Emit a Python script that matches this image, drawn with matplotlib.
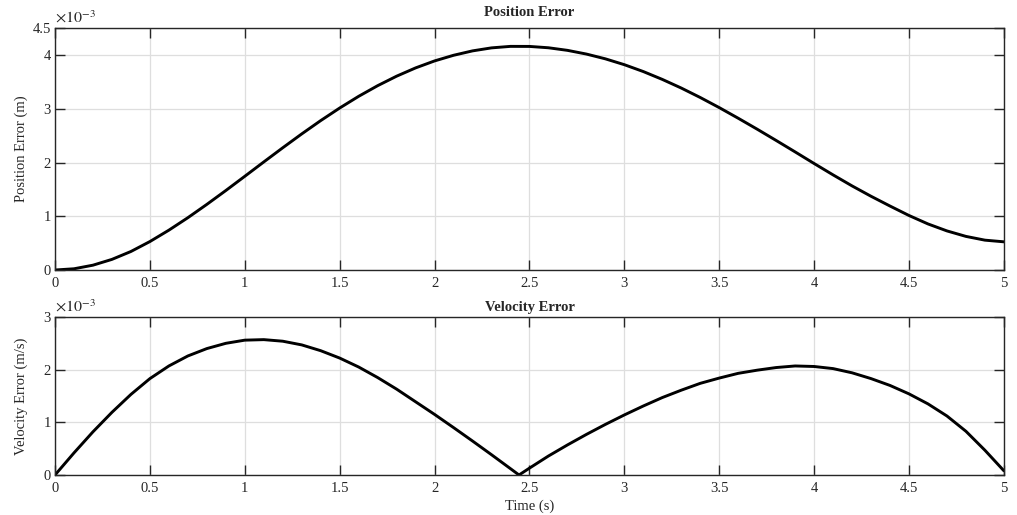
import numpy as np
import matplotlib
matplotlib.use("Agg")
import matplotlib.pyplot as plt
from matplotlib.ticker import FuncFormatter

# Sample times (s)
time_pos = [0.0, 0.1, 0.2, 0.3, 0.4, 0.5, 0.6, 0.7, 0.8, 0.9,
            1.0, 1.1, 1.2, 1.3, 1.4, 1.5, 1.6, 1.7, 1.8, 1.9,
            2.0, 2.1, 2.2, 2.3, 2.4, 2.5, 2.6, 2.7, 2.8, 2.9,
            3.0, 3.1, 3.2, 3.3, 3.4, 3.5, 3.6, 3.7, 3.8, 3.9,
            4.0, 4.1, 4.2, 4.3, 4.4, 4.5, 4.6, 4.7, 4.8, 4.9, 5.0]

# Position error (x 1e-3 m)
pos_err = [0.000, 0.023, 0.090, 0.198, 0.345, 0.530, 0.742, 0.974, 1.222, 1.480,
           1.745, 2.012, 2.276, 2.534, 2.782, 3.016, 3.234, 3.432, 3.609, 3.763,
           3.893, 3.998, 4.080, 4.136, 4.164, 4.163, 4.138, 4.090, 4.021, 3.932,
           3.823, 3.695, 3.549, 3.388, 3.212, 3.024, 2.826, 2.622, 2.412, 2.199,
           1.983, 1.771, 1.566, 1.373, 1.191, 1.015, 0.858, 0.728, 0.626, 0.556, 0.525]

time_vel = [0.0, 0.1, 0.2, 0.3, 0.4, 0.5, 0.6, 0.7, 0.8, 0.9,
            1.0, 1.1, 1.2, 1.3, 1.4, 1.5, 1.6, 1.7, 1.8, 1.9,
            2.0, 2.1, 2.2, 2.3, 2.4, 2.445, 2.5, 2.6, 2.7, 2.8, 2.9,
            3.0, 3.1, 3.2, 3.3, 3.4, 3.5, 3.6, 3.7, 3.8, 3.9,
            4.0, 4.1, 4.2, 4.3, 4.4, 4.5, 4.6, 4.7, 4.8, 4.9, 5.0]

# Velocity error (x 1e-3 m/s)
vel_err = [0.00, 0.42, 0.82, 1.19, 1.53, 1.83, 2.07, 2.26, 2.40, 2.50,
           2.56, 2.57, 2.54, 2.47, 2.36, 2.22, 2.05, 1.85, 1.63, 1.39,
           1.15, 0.90, 0.645, 0.385, 0.12, 0.00, 0.13, 0.36, 0.57, 0.77, 0.96,
           1.14, 1.31, 1.47, 1.61, 1.74, 1.84, 1.93, 1.99, 2.04, 2.07,
           2.06, 2.02, 1.94, 1.83, 1.70, 1.54, 1.35, 1.12, 0.83, 0.47, 0.08]

x_ticks = [0, 0.5, 1, 1.5, 2, 2.5, 3, 3.5, 4, 4.5, 5]
pos_ticks = [0, 1, 2, 3, 4, 4.5]
vel_ticks = [0, 1, 2, 3]

plt.rcParams['font.family'] = ['Liberation Serif', 'DejaVu Serif']
plt.rcParams['mathtext.fontset'] = 'stix'

ink = '#262626'
fs = 10.5

fig = plt.figure(figsize=(10.17, 5.15), dpi=100)
ax1 = fig.add_axes([0.0541, 0.4757, 0.9330, 0.4693])
ax2 = fig.add_axes([0.0541, 0.0777, 0.9330, 0.3068])

fmt = FuncFormatter(lambda v, p: f"{v:g}")


def style(ax, yticks, ymax):
    ax.set_xlim(0, 5)
    ax.set_ylim(0, ymax)
    ax.set_xticks(x_ticks)
    ax.set_yticks(yticks)
    ax.xaxis.set_major_formatter(fmt)
    ax.yaxis.set_major_formatter(fmt)
    ax.grid(True, color='#dedede', linewidth=0.9)
    ax.set_axisbelow(True)
    ax.tick_params(direction='in', length=7, width=1.0, color=ink,
                   labelcolor=ink, labelsize=fs, top=True, right=True)
    ax.tick_params(axis='x', pad=5)
    ax.tick_params(axis='y', pad=3)
    for s in ax.spines.values():
        s.set_color(ink)
        s.set_linewidth(1.0)
    ax.text(0.0, 1.008, r'$\times10^{-3}$', transform=ax.transAxes,
            ha='left', va='bottom', fontsize=fs + 1, color=ink)


ax1.plot(time_pos, pos_err, color='black', linewidth=2.1,
         solid_joinstyle='round', solid_capstyle='round')
style(ax1, pos_ticks, 4.5)
ax1.set_title('Position Error', fontsize=fs, fontweight='bold', color=ink, pad=9)
ax1.set_ylabel('Position Error (m)', fontsize=fs, color=ink)
ax1.yaxis.set_label_coords(-0.0285, 0.5)

ax2.plot(time_vel, vel_err, color='black', linewidth=2.1,
         solid_joinstyle='round', solid_capstyle='round')
style(ax2, vel_ticks, 3)
ax2.set_title('Velocity Error', fontsize=fs, fontweight='bold', color=ink, pad=4)
ax2.set_ylabel('Velocity Error (m/s)', fontsize=fs, color=ink)
ax2.yaxis.set_label_coords(-0.0285, 0.5)
ax2.set_xlabel('Time (s)', fontsize=fs, color=ink, labelpad=3)

fig.savefig('out.png', dpi=100)
